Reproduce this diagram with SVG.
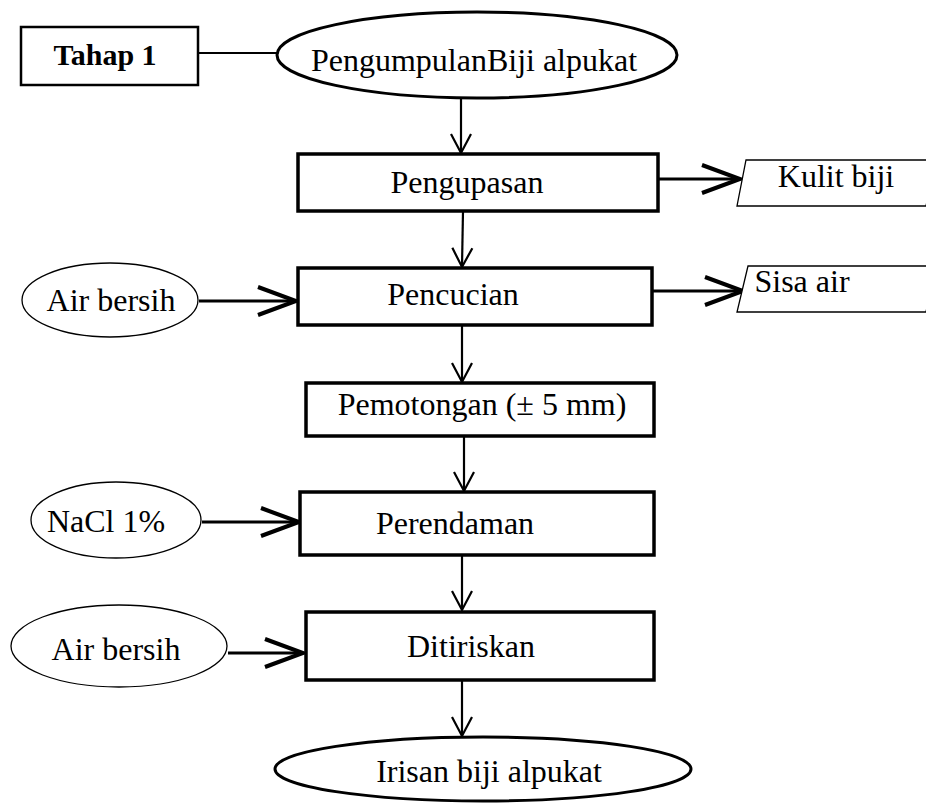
<svg xmlns="http://www.w3.org/2000/svg" width="926" height="810" viewBox="0 0 926 810">
<style>
text{font-family:"Liberation Serif","Times New Roman",serif;font-size:32px;fill:#000;text-anchor:middle}
.b{font-weight:bold;font-size:30px}
.box{fill:#fff;stroke:#000;stroke-width:3.5}
.tbox{fill:#fff;stroke:#000;stroke-width:2.5}
.bigell{fill:#fff;stroke:#000;stroke-width:3}
.ell{fill:#fff;stroke:#000;stroke-width:1.3}
.para{fill:#fff;stroke:#000;stroke-width:1.3}
.c{fill:none;stroke:#000;stroke-width:2.2}
.ch{fill:none;stroke:#000;stroke-width:3}
</style>
<defs>
<marker id="av" markerUnits="userSpaceOnUse" viewBox="-25 -15 30 30" refX="0" refY="0" markerWidth="30" markerHeight="30" orient="auto" overflow="visible">
<path d="M-19,-10 L0,0 L-19,10" fill="none" stroke="#000" stroke-width="2.2"/>
</marker>
<marker id="ah" markerUnits="userSpaceOnUse" viewBox="-45 -20 50 40" refX="0" refY="0" markerWidth="50" markerHeight="40" orient="auto" overflow="visible">
<path d="M-38,-14 L0,0 L-38,14" fill="none" stroke="#000" stroke-width="4"/>
</marker>
</defs>

<g id="connectors">
<line class="c" x1="198" y1="53" x2="277" y2="53"/>
<line class="c" x1="461" y1="98" x2="461" y2="153" marker-end="url(#av)"/>
<line class="c" x1="463" y1="211" x2="462" y2="267" marker-end="url(#av)"/>
<line class="c" x1="462" y1="325" x2="462" y2="382" marker-end="url(#av)"/>
<line class="c" x1="464" y1="436" x2="464" y2="491" marker-end="url(#av)"/>
<line class="c" x1="462" y1="555" x2="462" y2="610" marker-end="url(#av)"/>
<line class="c" x1="462" y1="680" x2="462" y2="736" marker-end="url(#av)"/>
<line class="ch" x1="652" y1="179" x2="740" y2="179" marker-end="url(#ah)"/>
<line class="ch" x1="653" y1="291" x2="743" y2="291" marker-end="url(#ah)"/>
<line class="ch" x1="199" y1="301" x2="296" y2="301" marker-end="url(#ah)"/>
<line class="ch" x1="202" y1="522" x2="299" y2="522" marker-end="url(#ah)"/>
<line class="ch" x1="228" y1="653" x2="303" y2="653" marker-end="url(#ah)"/>
</g>

<g id="tahap1">
<rect class="tbox" x="21" y="27" width="177" height="58"/>
<text class="b" x="105" y="65">Tahap 1</text>
</g>

<g id="pengumpulan">
<ellipse class="bigell" cx="477" cy="55" rx="200" ry="43"/>
<text x="474" y="71">PengumpulanBiji alpukat</text>
</g>

<g id="pengupasan">
<rect class="box" x="298" y="154" width="360" height="57"/>
<text x="467" y="193">Pengupasan</text>
</g>

<g id="kulit">
<polygon class="para" points="746,160 936,160 926,206 737,206"/>
<text x="836" y="187">Kulit biji</text>
</g>

<g id="airbersih1">
<ellipse class="ell" cx="110" cy="300" rx="88" ry="37"/>
<text x="111" y="311">Air bersih</text>
</g>

<g id="pencucian">
<rect class="box" x="298" y="268" width="354" height="57"/>
<text x="453" y="305">Pencucian</text>
</g>

<g id="sisaair">
<polygon class="para" points="748,266 936,266 926,312 737,312"/>
<text x="802" y="292">Sisa air</text>
</g>

<g id="pemotongan">
<rect class="box" x="306" y="383" width="348" height="53"/>
<text x="482" y="415">Pemotongan (± 5 mm)</text>
</g>

<g id="nacl">
<ellipse class="ell" cx="116" cy="520" rx="85" ry="38"/>
<text x="106" y="532">NaCl 1%</text>
</g>

<g id="perendaman">
<rect class="box" x="300" y="492" width="354" height="63"/>
<text x="455" y="534">Perendaman</text>
</g>

<g id="airbersih2">
<ellipse class="ell" cx="119" cy="646" rx="108" ry="41"/>
<text x="116" y="660">Air bersih</text>
</g>

<g id="ditiriskan">
<rect class="box" x="306" y="612" width="348" height="68"/>
<text x="471" y="657">Ditiriskan</text>
</g>

<g id="irisan">
<ellipse class="bigell" cx="483" cy="769" rx="208" ry="32"/>
<text x="489" y="782">Irisan biji alpukat</text>
</g>
</svg>
